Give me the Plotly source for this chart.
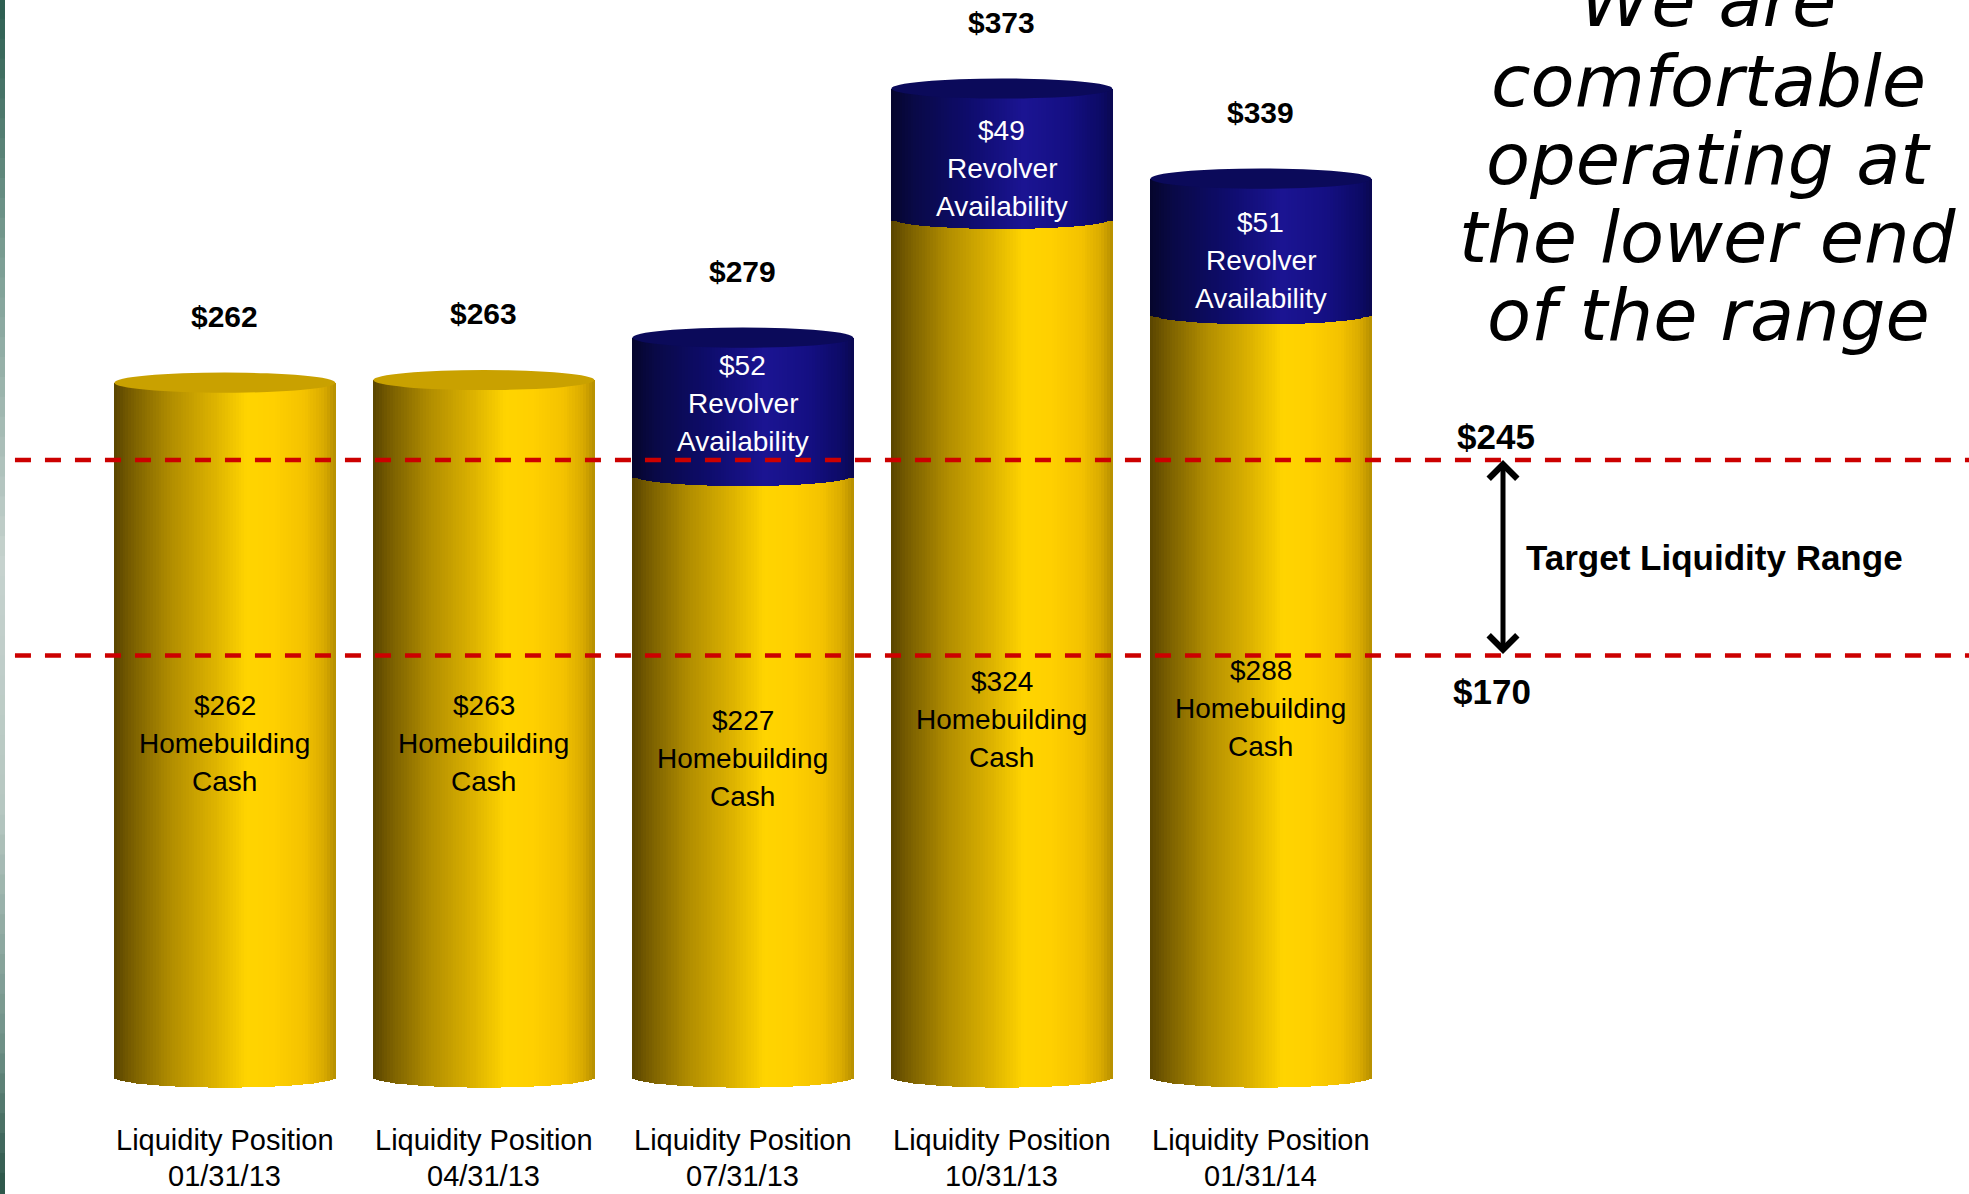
import numpy as np
import plotly.graph_objects as go

# ---- data -------------------------------------------------------------
periods = ["01/31/13", "04/31/13", "07/31/13", "10/31/13", "01/31/14"]
homebuilding_cash = [262, 263, 227, 324, 288]
revolver_availability = [0, 0, 52, 49, 51]
target_low = 170
target_high = 245

# vertical centre (in $) of the text placed inside each cylinder segment
cash_label_y = [126, 126, 120, 135, 139]
revolver_label_y = [None, None, 254, 343, 308]

totals = [c + r for c, r in zip(homebuilding_cash, revolver_availability)]
xs = list(range(len(periods)))

# ---- styling ----------------------------------------------------------
W = 0.853          # cylinder width in category units
N = 80             # vertical strips used for the shaded cylinder body
RIM = 4.0          # half-height of the elliptical rims (in $ units)
SANS = "Liberation Sans, Arial, sans-serif"
X_RANGE = [-0.868, 6.734]
Y_RANGE = [-44.15, 406.4]
PX_PER_UNIT = 1194 / (Y_RANGE[1] - Y_RANGE[0])

yellow_stops = [(0.00, "#5a4500"), (0.08, "#7a5f00"), (0.25, "#b08c00"),
                (0.45, "#dcb200"), (0.60, "#ffd400"), (0.72, "#ffd000"),
                (0.86, "#f4c200"), (0.95, "#d8aa00"), (1.00, "#b58e00")]
blue_stops = [(0.00, "#05052c"), (0.10, "#090946"), (0.35, "#0e0c6c"),
              (0.60, "#1b1493"), (0.80, "#140f82"), (0.95, "#0c0a66"),
              (1.00, "#0a0850")]
side_stops = [(0.00, "#2b5d4f"), (0.22, "#7c9e94"), (0.47, "#c6d2ce"),
              (0.68, "#b6c7c1"), (0.88, "#6d8f85"), (1.00, "#2a5447")]


def hex_rgb(h):
    h = h.lstrip("#")
    return [int(h[i:i + 2], 16) for i in (0, 2, 4)]


def shade(stops, t):
    for (t0, c0), (t1, c1) in zip(stops[:-1], stops[1:]):
        if t <= t1:
            f = 0 if t1 == t0 else (t - t0) / (t1 - t0)
            a, b = hex_rgb(c0), hex_rgb(c1)
            return "rgb(%d,%d,%d)" % tuple(round(a[i] + (b[i] - a[i]) * f) for i in range(3))
    return stops[-1][1]


fig = go.Figure()
strip_w = W / N
rev_idx = [i for i, r in enumerate(revolver_availability) if r > 0]
rev_x = [xs[i] for i in rev_idx]
rev_val = [revolver_availability[i] for i in rev_idx]
rev_base = [homebuilding_cash[i] for i in rev_idx]


def strip(k):
    t = (k + 0.5) / N
    off = -W / 2 + k * strip_w
    depth = RIM * np.sqrt(max(0.0, 1 - (2 * t - 1) ** 2))
    return t, off, depth


common = dict(width=strip_w * 1.15, marker_line_width=0, hoverinfo="skip",
              showlegend=False)

# yellow cash body
for k in range(N):
    t, off, depth = strip(k)
    fig.add_bar(x=xs, y=homebuilding_cash, base=[0] * len(xs), offset=off,
                marker_color=shade(yellow_stops, t), **common)
# rounded bottom rim
for k in range(N):
    t, off, depth = strip(k)
    fig.add_bar(x=xs, y=[depth] * len(xs), base=[-depth] * len(xs), offset=off,
                marker_color=shade(yellow_stops, t), **common)
# blue revolver body
for k in range(N):
    t, off, depth = strip(k)
    fig.add_bar(x=rev_x, y=rev_val, base=rev_base, offset=off,
                marker_color=shade(blue_stops, t), **common)
# rounded lower edge of the revolver segment
for k in range(N):
    t, off, depth = strip(k)
    fig.add_bar(x=rev_x, y=[depth] * len(rev_x),
                base=[b - depth for b in rev_base], offset=off,
                marker_color=shade(blue_stops, t), **common)

shapes = []
# top caps of the cylinders
for i, tot in enumerate(totals):
    cap = "#c9a100" if revolver_availability[i] == 0 else "#0b0a5a"
    shapes.append(dict(type="circle", xref="x", yref="y", x0=xs[i] - W / 2,
                       x1=xs[i] + W / 2, y0=tot - RIM * 0.95, y1=tot + RIM * 0.95,
                       fillcolor=cap, line=dict(width=0), layer="above"))

# target liquidity band
for lvl in (target_high, target_low):
    shapes.append(dict(type="line", xref="paper", yref="y2", x0=0.0076, x1=1.0,
                       y0=lvl, y1=lvl,
                       line=dict(color="#cc0000", width=4.5, dash="16px,14px")))

# shaded border strip on the left edge
SEG = 60
for s in range(SEG):
    shapes.append(dict(type="rect", xref="paper", yref="paper",
                       x0=0, x1=5 / 1969, y0=1 - (s + 1) / SEG, y1=1 - s / SEG + 0.001,
                       fillcolor=shade(side_stops, (s + 0.5) / SEG),
                       line=dict(width=0), layer="above"))

ann = []


def stacked(lines, x, y, color, size, gap=38, bold=False):
    n = len(lines)
    for j, txt in enumerate(lines):
        ann.append(dict(x=x, y=y, xref="x", yref="y",
                        text=("<b>%s</b>" % txt) if bold else txt,
                        showarrow=False, xanchor="center", yanchor="middle",
                        yshift=((n - 1) / 2 - j) * gap,
                        font=dict(family=SANS, size=size, color=color)))


for i in xs:
    # totals above the cylinders
    stacked(["$%d" % totals[i]], xs[i], totals[i] + 25, "black", 30, bold=True)
    stacked(["$%d" % homebuilding_cash[i], "Homebuilding", "Cash"],
            xs[i], cash_label_y[i], "black", 28)
    if revolver_availability[i] > 0:
        stacked(["$%d" % revolver_availability[i], "Revolver", "Availability"],
                xs[i], revolver_label_y[i], "white", 28)
    # period labels under the cylinders (block centred 81 px below the base)
    stacked(["Liquidity Position", periods[i]], xs[i], -81 / PX_PER_UNIT,
            "black", 29, gap=36)


def px_to_x(px):
    return X_RANGE[0] + px / 1969 * (X_RANGE[1] - X_RANGE[0])


# band annotations
ARROW_X = px_to_x(1503)
ann.append(dict(x=ARROW_X, y=target_high, xref="x", yref="y2",
                ax=ARROW_X, ay=target_low, axref="x", ayref="y2",
                showarrow=True, arrowside="end+start", arrowhead=4,
                startarrowhead=4, arrowwidth=5, arrowsize=1.1, startarrowsize=1.1,
                arrowcolor="black", text=""))
ann.append(dict(x=px_to_x(1496), y=target_high, xref="x", yref="y2",
                text="<b>$%d</b>" % target_high, showarrow=False,
                yanchor="bottom", yshift=2,
                font=dict(family=SANS, size=35, color="black")))
ann.append(dict(x=px_to_x(1492), y=target_low, xref="x", yref="y2",
                text="<b>$%d</b>" % target_low, showarrow=False,
                yanchor="top", yshift=-14,
                font=dict(family=SANS, size=35, color="black")))
ann.append(dict(x=px_to_x(1524), y=(target_low + target_high) / 2, xref="x",
                yref="y2", text="<b>Target Liquidity Range</b>", showarrow=False,
                xanchor="left", yanchor="middle",
                font=dict(family=SANS, size=35, color="black")))

# side message
message = ["We are", "comfortable", "operating at", "the lower end", "of the range"]
msg_centres = [1, 81, 159, 237, 315]
for txt, py in zip(message, msg_centres):
    ann.append(dict(x=1708 / 1969, y=1 - py / 1194, xref="paper", yref="paper",
                    text="<i>%s</i>" % txt, showarrow=False,
                    xanchor="center", yanchor="middle",
                    font=dict(family="DejaVu Sans, Verdana, sans-serif",
                              size=72, color="black")))

fig.update_layout(
    width=1969, height=1194,
    margin=dict(l=0, r=0, t=0, b=0, pad=0),
    paper_bgcolor="white", plot_bgcolor="white",
    barmode="overlay", bargap=0,
    xaxis=dict(range=X_RANGE, visible=False, fixedrange=True),
    yaxis=dict(range=Y_RANGE, visible=False, fixedrange=True),
    yaxis2=dict(range=[-36.6, 421.5], overlaying="y", visible=False,
                fixedrange=True),
    shapes=shapes, annotations=ann, showlegend=False,
)

fig.write_html("out.html")
